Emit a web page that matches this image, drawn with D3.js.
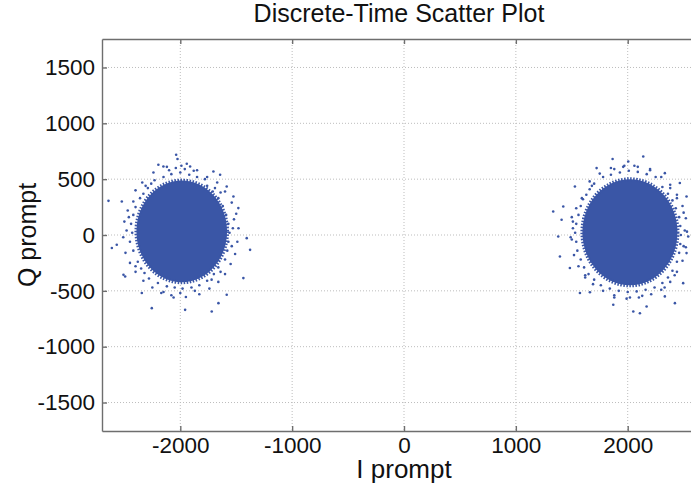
<!DOCTYPE html>
<html>
<head>
<meta charset="utf-8">
<script src="https://cdn.jsdelivr.net/npm/d3@7"></script>
<style>
  body { margin: 0; background: #fff; }
  text { font-family: "Liberation Sans", Arial, sans-serif; fill: #111; }
</style>
</head>
<body>
<div class="plot"></div>
<script>
// Axis ticks
const xTicks = [-2000, -1000, 0, 1000, 2000];
const yTicks = [-1500, -1000, -500, 0, 500, 1000, 1500];

// Dense cluster cores (I/Q centre and spread)
const coreI = [-1987, 2020];
const coreQ = [32, 24];
const coreRadI = [405, 425];
const coreRadQ = [455, 475];

// Scattered points around the left cluster (I, Q)
const leftPts = [
  [-2150,520],[-2080,545],[-2000,560],[-1920,540],[-1850,520],[-2230,490],[-1780,500],[-2100,580],[-1960,590],[-2040,600],[-1880,575],
  [-2290,420],[-2330,370],[-2260,460],[-2360,330],[-2310,440],
  [-2400,250],[-2420,180],[-2440,100],[-2430,20],[-2450,-60],[-2420,-140],[-2460,160],[-2480,40],
  [-2380,-240],[-2350,-300],[-2320,-340],[-2400,-280],[-2280,-390],
  [-2200,-430],[-2120,-460],[-2050,-470],[-1980,-480],[-1900,-470],[-1830,-450],[-2150,-510],[-2000,-520],[-1870,-500],[-2080,-540],
  [-1760,-410],[-1700,-350],[-1660,-290],[-1720,-400],[-1640,-330],
  [-1600,-220],[-1580,-140],[-1570,-60],[-1560,20],[-1570,100],[-1590,180],[-1530,60],[-1540,-100],[-1520,140],
  [-1620,260],[-1660,330],[-1710,390],[-1760,440],[-1690,420],[-1640,380],
  [-2420,300],[-2470,220],[-2500,120],[-2510,-20],[-2490,-160],[-2450,-250],[-2400,-330],[-2330,-410],[-2250,-470],
  [-2170,-520],[-2060,-560],[-1950,-555],[-1830,-530],[-1740,-480],[-1660,-420],[-1600,-350],[-1550,-260],[-1510,-170],
  [-1490,-60],[-1480,60],[-1500,190],[-1540,290],[-1600,390],[-1670,470],[-1760,520],[-1850,580],[-1990,620],
  [-2120,610],[-2240,560],[-2340,470],[-2400,400],
  [-2037,718],[-2025,680],[-2196,629],[-2151,614],[-1942,638],[-1912,614],[-1704,569],[-1644,539],
  [-2642,306],[-2523,300],[-2612,-117],[-2568,-87],[-2508,-356],[-2493,-371],[-2344,-520],[-2255,-655],
  [-1957,-670],[-1719,-685],[-1659,-610],[-1585,-535],[-1436,-386],[-1376,-133],[-1406,-28],[-1481,241],[-1525,345],[-1585,434]
];

// Scattered points around the right cluster (I, Q)
const rightPts = [
  [1850,540],[1930,560],[2010,575],[2090,565],[2170,545],[2250,520],[1780,520],[1960,610],[2060,620],[2200,590],[1880,590],
  [1700,460],[1660,410],[1630,360],[1680,440],[1600,320],
  [1580,260],[1560,180],[1540,100],[1530,20],[1540,-60],[1550,-140],[1500,160],[1490,-20],[1510,60],
  [1580,-220],[1610,-290],[1650,-350],[1700,-400],[1620,-380],
  [1760,-450],[1840,-480],[1920,-500],[2000,-510],[2080,-505],[2160,-490],[2240,-470],[1880,-540],[2020,-560],[2130,-545],
  [2310,-430],[2360,-380],[2400,-320],[2330,-470],[2420,-360],
  [2440,-240],[2460,-160],[2470,-80],[2475,0],[2470,80],[2460,160],[2510,40],[2500,-100],[2500,200],
  [2430,240],[2400,310],[2360,370],[2310,430],[2380,420],[2440,330],
  [1590,330],[1540,240],[1510,120],[1500,-40],[1520,-180],[1560,-280],[1620,-360],[1690,-440],[1780,-500],
  [1880,-560],[1990,-570],[2100,-560],[2210,-530],[2300,-490],[2380,-420],[2440,-330],[2490,-230],[2520,-110],
  [2530,30],[2520,150],[2490,260],[2440,360],[2380,450],[2300,520],[2200,580],[2090,610],[1970,620],
  [1850,600],[1750,550],[1660,480],
  [2139,703],[1865,680],[2005,658],[1722,599],[2332,554],[1528,434],[2466,465],[2526,345],
  [1334,210],[1424,255],[1409,136],[1379,-13],[1394,-193],[1483,-296],[2541,-13],[2526,-162],[2496,-431],
  [1573,-520],[1662,-513],[1871,-625],[2050,-685],[2109,-700],[2169,-640],[2422,-610],[2332,-550]
];

const W = 691, H = 493;
const dotColor = "#3a56a6";

const svg = d3.select(".plot")
    .append("svg")
        .attr("width", W)
        .attr("height", H);

// Scales (plot box runs off the right edge of the picture)
const x = d3.scaleLinear().domain([-2700, 2700]).range([102, 706]);
const y = d3.scaleLinear().domain([-1755, 1755]).range([431, 39]);

// Dotted grid
svg.append("g")
    .selectAll("line")
    .data(xTicks)
    .enter()
    .append("line")
        .attr("x1", d => x(d)).attr("x2", d => x(d))
        .attr("y1", y(1755)).attr("y2", y(-1755))
        .attr("stroke", "#bdbdbd")
        .attr("stroke-dasharray", "1,2");
svg.append("g")
    .selectAll("line")
    .data(yTicks)
    .enter()
    .append("line")
        .attr("x1", x(-2700)).attr("x2", x(2700))
        .attr("y1", d => y(d)).attr("y2", d => y(d))
        .attr("stroke", "#bdbdbd")
        .attr("stroke-dasharray", "1,2");

// Cluster cores, with a speckled rim
const cores = coreI.map((c, i) => ({i: c, q: coreQ[i], ri: coreRadI[i], rq: coreRadQ[i]}));
svg.append("g")
    .selectAll("ellipse")
    .data(cores)
    .enter()
    .append("ellipse")
        .attr("cx", d => x(d.i))
        .attr("cy", d => y(d.q))
        .attr("rx", d => x(d.i + d.ri) - x(d.i))
        .attr("ry", d => y(d.q) - y(d.q + d.rq))
        .attr("fill", dotColor)
        .attr("stroke", dotColor)
        .attr("stroke-width", 4)
        .attr("stroke-dasharray", "1.5,1.5");

// Individual points
svg.append("g")
    .selectAll("circle")
    .data(leftPts.concat(rightPts))
    .enter()
    .append("circle")
        .attr("cx", d => x(d[0]))
        .attr("cy", d => y(d[1]))
        .attr("r", 1.3)
        .attr("fill", dotColor);

// Axes: inward ticks, labels outside
const fmt = d => String(d);
const xAxis = d3.axisBottom(x).tickValues(xTicks).tickFormat(fmt).tickSizeInner(-5).tickSizeOuter(0).tickPadding(6);
const yAxis = d3.axisLeft(y).tickValues(yTicks).tickFormat(fmt).tickSizeInner(-5).tickSizeOuter(0).tickPadding(7);

const gx = svg.append("g")
    .attr("transform", "translate(0," + y(-1755) + ")")
    .call(xAxis);
const gy = svg.append("g")
    .attr("transform", "translate(" + x(-2700) + ",0)")
    .call(yAxis);
const gt = svg.append("g")
    .attr("transform", "translate(0," + y(1755) + ")")
    .call(d3.axisTop(x).tickValues(xTicks).tickSizeInner(-5).tickSizeOuter(0).tickFormat(""));

[gx, gy, gt].forEach(g => {
    g.selectAll("path, line").attr("stroke", "#6e6e6e").attr("stroke-width", 1.4);
    g.selectAll("text").style("font-size", "22.5px").style("fill", "#111");
});
gx.selectAll("text").attr("dy", "0.71em");

// Title and axis labels
svg.append("text")
    .attr("x", 399)
    .attr("y", 22)
    .attr("text-anchor", "middle")
    .style("font-size", "25px")
    .text("Discrete-Time Scatter Plot");
svg.append("text")
    .attr("x", 404)
    .attr("y", 478)
    .attr("text-anchor", "middle")
    .style("font-size", "26px")
    .text("I prompt");
svg.append("text")
    .attr("transform", "translate(36," + y(0) + ") rotate(-90)")
    .attr("text-anchor", "middle")
    .style("font-size", "25px")
    .text("Q prompt");
</script>
</body>
</html>
